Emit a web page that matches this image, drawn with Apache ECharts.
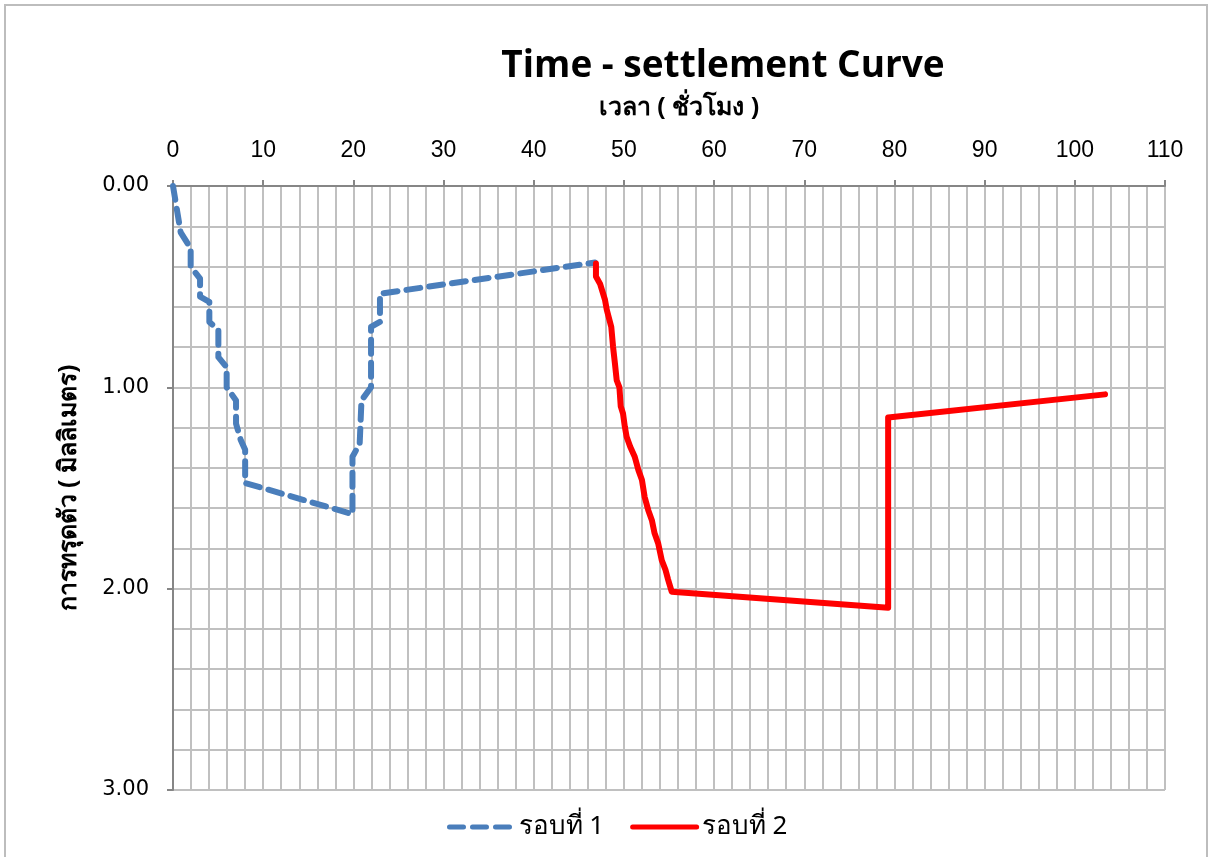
<!doctype html>
<html>
<head>
    <meta charset="utf-8">
    <title>Time - settlement Curve</title>
    <style type="text/css">
        body, html {
            width: 100%;
            height: 100%;
            margin: 0;
            padding: 0;
            background: #fff;
        }
        #container {
            position: absolute;
            left: 4px;
            top: 4px;
            right: 4px;
            bottom: 0;
            border: 2px solid #bdbdbd;
            border-bottom: none;
        }
    </style>
    <script src="https://fastly.jsdelivr.net/npm/echarts@6/dist/echarts.min.js"></script>
</head>
<body>
<div id="container"></div>
<script type="text/javascript">
    // รอบที่ 1 : [ชั่วโมง, มม.]
    const round1Time = [0, 0.85, 1.96, 1.96, 3.0, 3.0, 4.03, 4.03, 5.03, 5.03, 5.95, 5.95, 6.99, 6.99, 7.5, 8.0, 8.0,
        19.9, 19.9, 20.7, 20.9, 21.96, 21.96, 22.95, 22.95, 46.8];
    const round1Settle = [0, 0.23, 0.31, 0.40, 0.46, 0.55, 0.575, 0.675, 0.715, 0.85, 0.90, 1.00, 1.065, 1.18, 1.26, 1.31, 1.475,
        1.63, 1.345, 1.28, 1.065, 1.00, 0.70, 0.675, 0.535, 0.38];
    // รอบที่ 2
    const round2Time = [46.9, 46.9, 47.35, 47.9, 48.1, 48.6, 48.8, 49.0, 49.2, 49.5, 49.65, 49.9, 50.1, 50.3, 50.7, 51.2,
        51.6, 52.0, 52.3, 52.7, 53.1, 53.4, 53.8, 54.2, 54.6, 54.9, 55.3, 79.3, 79.3, 103.35];
    const round2Settle = [0.385, 0.45, 0.485, 0.565, 0.615, 0.70, 0.80, 0.88, 0.965, 1.00, 1.095, 1.13, 1.195, 1.245, 1.295, 1.345,
        1.41, 1.46, 1.545, 1.61, 1.66, 1.725, 1.775, 1.86, 1.905, 1.955, 2.015, 2.095, 1.15, 1.035];

    const pairs = (xs, ys) => xs.map((x, i) => [x, ys[i]]);

    const dom = document.getElementById('container');
    const myChart = echarts.init(dom, null, {renderer: 'canvas'});

    const gridColor = '#c0c0c0';
    const axisColor = '#868686';

    const option = {
        animation: false,
        title: {
            text: 'Time - settlement Curve',
            left: 712,
            top: 37,
            textAlign: 'center',
            textStyle: {
                fontFamily: 'Open Sans',
                fontWeight: 'bold',
                fontSize: 37,
                color: '#000'
            }
        },
        legend: {
            bottom: 12,
            left: 436,
            itemWidth: 64,
            itemHeight: 14,
            itemGap: 26,
            itemStyle: {opacity: 0},
            lineStyle: {width: 5, cap: 'round'},
            textStyle: {
                fontFamily: 'Noto Sans, DejaVu Sans',
                fontSize: 26,
                color: '#000'
            },
            data: ['รอบที่ 1', 'รอบที่ 2']
        },
        grid: {
            left: 167,
            top: 180,
            right: 41,
            bottom: 67
        },
        xAxis: {
            type: 'value',
            position: 'top',
            min: 0,
            max: 110,
            interval: 10,
            name: 'เวลา ( ชั่วโมง )',
            nameLocation: 'middle',
            nameGap: 66,
            nameTextStyle: {
                fontFamily: 'Noto Sans, DejaVu Sans',
                fontWeight: 'bold',
                fontSize: 25,
                color: '#000',
                padding: [0, 0, 0, 20]
            },
            axisLine: {show: true, lineStyle: {color: axisColor, width: 2}},
            axisTick: {show: true, length: 6, lineStyle: {color: axisColor, width: 2}},
            axisLabel: {
                margin: 24,
                fontFamily: 'Liberation Sans',
                fontSize: 23,
                color: '#000'
            },
            splitLine: {show: true, lineStyle: {color: gridColor, width: 2}},
            minorTick: {show: false, splitNumber: 5},
            minorSplitLine: {show: true, lineStyle: {color: gridColor, width: 2}}
        },
        yAxis: {
            type: 'value',
            inverse: true,
            min: 0,
            max: 3,
            interval: 1,
            name: 'การทรุดตัว ( มิลลิเมตร)',
            nameLocation: 'middle',
            nameGap: 92,
            nameRotate: 90,
            nameTextStyle: {
                fontFamily: 'Noto Sans, DejaVu Sans',
                fontWeight: 'bold',
                fontSize: 25,
                color: '#000'
            },
            axisLine: {show: true, lineStyle: {color: axisColor, width: 2}},
            axisTick: {show: true, length: 6, lineStyle: {color: axisColor, width: 2}},
            axisLabel: {
                margin: 24,
                fontFamily: 'DejaVu Sans',
                fontSize: 21,
                color: '#000',
                formatter: v => v.toFixed(2)
            },
            splitLine: {show: true, lineStyle: {color: gridColor, width: 2}},
            minorTick: {show: false, splitNumber: 5},
            minorSplitLine: {show: true, lineStyle: {color: gridColor, width: 2}}
        },
        series: [
            {
                name: 'รอบที่ 1',
                type: 'line',
                showSymbol: false,
                symbol: 'none',
                data: pairs(round1Time, round1Settle),
                lineStyle: {color: '#4a7ebb', width: 6, type: [14, 9], cap: 'round', join: 'round'},
                itemStyle: {color: '#4a7ebb'}
            },
            {
                name: 'รอบที่ 2',
                type: 'line',
                showSymbol: false,
                symbol: 'none',
                data: pairs(round2Time, round2Settle),
                lineStyle: {color: '#ff0000', width: 6, cap: 'round', join: 'round'},
                itemStyle: {color: '#ff0000'}
            }
        ]
    };

    myChart.setOption(option);
    window.addEventListener('resize', myChart.resize);
</script>
</body>
</html>
